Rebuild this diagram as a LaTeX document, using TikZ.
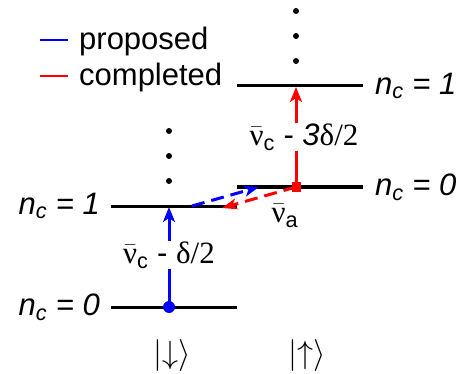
\RequirePackage{fix-cm}
\documentclass[tikz,border=0pt]{standalone}
\usepackage{fontspec}
\setmainfont{Liberation Sans}
\newfontfamily\grk{Liberation Serif}
\usepackage{tikz}
\usetikzlibrary{positioning, arrows.meta}

\newcommand{\nub}{$\bar{\hbox{\grk ν}}$}

\tikzset{
  level/.style={line width=3pt},
  jump/.style={line width=3pt, -{Stealth[length=15pt,width=12pt,inset=4pt]}},
  hop/.style={line width=3pt, dash pattern=on 13pt off 7pt, -{Stealth[length=15pt,width=11pt,inset=4pt]}},
  nclabel/.style={inner sep=2pt, font=\fontsize{31}{37}\selectfont\itshape},
  jumplabel/.style={fill=white, text=black, inner sep=1pt},
  ket/.style={font=\fontsize{32}{38}\selectfont}
}

\begin{document}
\begin{tikzpicture}[x=1pt, y=-1pt, font=\fontsize{31}{37}\selectfont]
    % Niveaux habilles |down> et |up>
    \useasboundingbox (0,0) rectangle (460,374);
    \coordinate (dn0w) at (111,307); \coordinate (dn0e) at (237,307);
    \coordinate (dn1w) at (111,206); \coordinate (dn1e) at (237,206);
    \coordinate (up0w) at (237,187); \coordinate (up0e) at (363,187);
    \coordinate (up1w) at (237,86);  \coordinate (up1e) at (363,86);
    \draw[level] (dn0w) -- (dn0e);
    \draw[level] (dn1w) -- (dn1e);
    \draw[level] (up0w) -- (up0e);
    \draw[level] (up1w) -- (up1e);
    \foreach \y in {131,156,181} \fill (169,\y) circle (3);
    \foreach \y in {11,36,61} \fill (296,\y) circle (3);
    \node[nclabel, left=9pt of dn0w] (ndn0) {n\textsubscript{c} = 0};
    \node[nclabel, left=9pt of dn1w] (ndn1) {n\textsubscript{c} = 1};
    \node[nclabel, right=10pt of up0e] (nup0) {n\textsubscript{c} = 0};
    \node[nclabel, right=10pt of up1e] (nup1) {n\textsubscript{c} = 1};
    \node[circle, fill=blue, minimum size=12pt, inner sep=0pt] (start) at (169,307) {};
    \node[fill=red, minimum size=9pt, inner sep=0pt] (mid) at (296,187) {};
    \coordinate (topdn) at (169,207);
    \coordinate (topup) at (296,87);
    \coordinate (hopa) at (192,206);
    \coordinate (hopb) at (259,187);
    \coordinate (hopc) at (222,208);
    \draw[jump, blue] (start.center) -- (topdn)
        node[pos=0.52, jumplabel] (cdn) {\nub\textsubscript{c} - {\grk δ/2}};
    \draw[jump, red] (mid.center) -- (topup)
        node[pos=0.5, jumplabel, xshift=8pt] (cup) {\nub\textsubscript{c} - \textit{3}{\grk δ/2}};
    \draw[hop, blue] (hopa) -- (hopb);
    \draw[hop, red] (mid.center) -- (hopc);
    \node (nua) at (285,216) {\nub\textsubscript{a}};
    % legende
    \draw[blue, line width=1.5pt] (40,40) -- (68,40);
    \draw[red, line width=1.5pt] (40,76) -- (68,76);
    \node[anchor=west, inner sep=0pt] (prop) at (79,41) {proposed};
    \node[anchor=west, inner sep=0pt] (comp) at (79,77) {completed};
    \node[ket] (kdn) at (172,355) {$\vert{\downarrow}\rangle$};
    \node[ket] (kup) at (307,355) {$\vert{\uparrow}\rangle$};
\end{tikzpicture}
\end{document}
